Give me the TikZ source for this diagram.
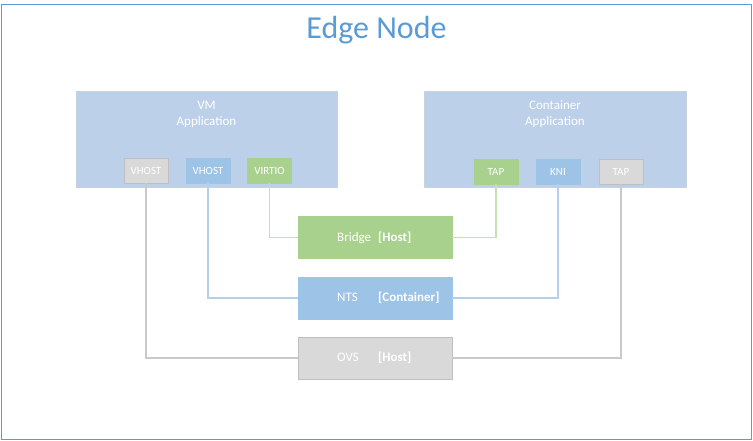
\documentclass[tikz,border=0pt]{standalone}
\usepackage{fontspec}
\setmainfont{Carlito}
\definecolor{frameblue}{HTML}{5B9BD5}
\definecolor{appfill}{HTML}{BDD0E9}
\definecolor{appdraw}{HTML}{C8D2DE}
\definecolor{gfill}{HTML}{A9D18E}
\definecolor{bfill}{HTML}{9DC3E6}
\definecolor{yfill}{HTML}{D9D9D9}
\definecolor{ydraw}{HTML}{BFBFBF}
\definecolor{gline}{HTML}{C5E0B4}
\definecolor{bline}{HTML}{B4CFEA}
\definecolor{yline}{HTML}{C9C9C9}
\tikzset{
  appbox/.style={draw=appdraw, fill=appfill, line width=1pt, minimum width=261pt, minimum height=96pt, inner sep=0pt},
  apptext/.style={text=white, font=\fontsize{13}{16}\selectfont, align=center},
  port/.style={minimum width=44pt, minimum height=25pt, inner sep=0pt, text=white, font=\fontsize{11}{12}\selectfont, line width=0.8pt},
  gport/.style={port, fill=gfill, draw=gfill},
  bport/.style={port, fill=bfill, draw=bfill},
  yport/.style={port, fill=yfill, draw=ydraw},
  hostbox/.style={minimum width=154pt, minimum height=42pt, inner sep=0pt, line width=0.8pt},
  boxlabel/.style={anchor=west, text=white, font=\fontsize{13}{14}\selectfont, inner sep=0pt},
  conn/.style={line width=1.2pt}
}
\newcommand{\lbl}[2]{\makebox[41pt][l]{#1}\textbf{#2}}
\begin{document}
\begin{tikzpicture}[x=1pt, y=-1pt]
\useasboundingbox (0,0) rectangle (753,441);
\draw[frameblue, line width=1pt] (1.5,5) rectangle (751,439.5);
\node[text=frameblue, font=\fontsize{32}{36}\selectfont] (title) at (376.5,30) {Edge Node};

\node[appbox] (vm) at (206.5,140) {};
\node[apptext] (vmtext) at (206.5,114) {VM\\Application};
\node[appbox, minimum width=262pt] (ct) at (555,140) {};
\node[apptext] (cttext) at (555,114) {Container\\Application};

\node[yport] (vh1) at (146,170.5) {VHOST};
\node[bport] (vh2) at (208,170.5) {VHOST};
\node[gport] (vio) at (269.5,170.5) {VIRTIO};
\node[gport] (tap1) at (496,171.5) {TAP};
\node[bport] (kni) at (558,171.5) {KNI};
\node[yport] (tap2) at (621,171.5) {TAP};

\node[hostbox, fill=gfill, draw=gfill] (br) at (375,237.5) {};
\node[hostbox, fill=bfill, draw=bfill] (nts) at (375,298) {};
\node[hostbox, fill=yfill, draw=ydraw] (ovs) at (375,358) {};
\node[boxlabel] (brl) at (337,237.5) {\lbl{Bridge}{[Host]}};
\node[boxlabel] (ntsl) at (337,298) {\lbl{NTS}{[Container]}};
\node[boxlabel] (ovsl) at (337,358) {\lbl{OVS}{[Host]}};

\draw[conn, gline] (vio.south) |- (br.west);
\draw[conn, gline] (tap1.south) |- (br.east);
\draw[conn, bline] (vh2.south) |- (nts.west);
\draw[conn, bline] (kni.south) |- (nts.east);
\draw[conn, yline] (vh1.south) |- (ovs.west);
\draw[conn, yline] (tap2.south) |- (ovs.east);
\end{tikzpicture}
\end{document}
